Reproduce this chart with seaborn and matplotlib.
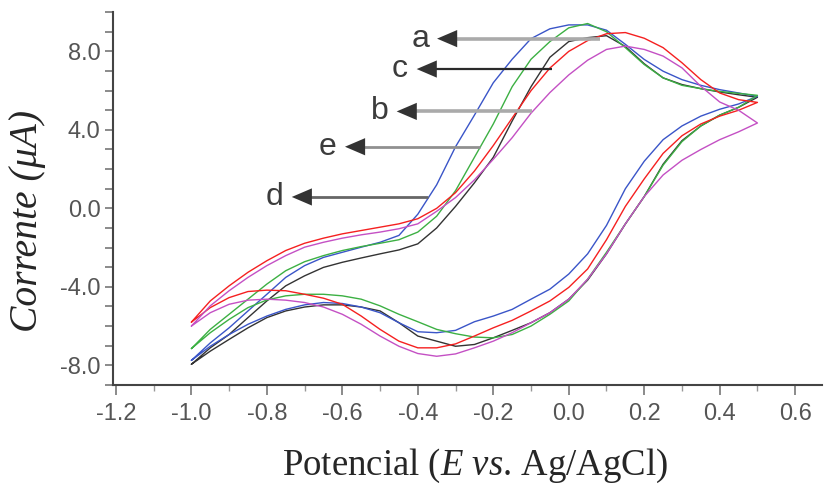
import numpy as np
import pandas as pd
import matplotlib
matplotlib.use('Agg')
import matplotlib.pyplot as plt
import seaborn as sns

# potencial (V) - varredura direta e inversa
E_fwd = [-1.0, -0.95, -0.9, -0.85, -0.8, -0.75, -0.7, -0.65, -0.6, -0.55, -0.5,
         -0.45, -0.4, -0.35, -0.3, -0.25, -0.2, -0.15, -0.1, -0.05, 0.0,
         0.05, 0.1, 0.15, 0.2, 0.25, 0.3, 0.35, 0.4, 0.45, 0.5]
E_rev = E_fwd[::-1]

# corrente (uA), curvas a-e
black_fwd = [-7.95, -7.11, -6.43, -5.57, -4.72, -3.95, -3.44, -3.01, -2.75, -2.53, -2.32,
             -2.12, -1.81, -1.0, 0.1, 1.3, 2.6, 4.45, 6.2, 7.7, 8.5,
             8.7, 8.8, 8.25, 7.37, 6.65, 6.31, 6.1, 5.93, 5.79, 5.66]
black_rev = [5.66, 5.15, 4.75, 4.2, 3.45, 2.25, 0.6, -0.8, -2.32, -3.66, -4.63,
             -5.32, -5.83, -6.22, -6.6, -6.94, -7.03, -6.77, -6.51, -5.83, -5.23,
             -5.03, -4.92, -4.92, -5.03, -5.23, -5.57, -6.09, -6.68, -7.28, -7.95]

blue_fwd = [-7.75, -6.86, -6.09, -5.23, -4.38, -3.52, -2.92, -2.5, -2.24, -1.98, -1.73,
            -1.38, -0.3, 1.2, 3.14, 4.75, 6.4, 7.6, 8.65, 9.15, 9.35,
            9.35, 9.08, 8.36, 7.59, 6.99, 6.56, 6.27, 6.05, 5.88, 5.71]
blue_rev = [5.71, 5.32, 5.05, 4.7, 4.2, 3.5, 2.4, 1.0, -0.87, -2.32, -3.35,
            -4.12, -4.63, -5.15, -5.49, -5.78, -6.22, -6.34, -6.29, -5.83, -5.32,
            -5.03, -4.85, -4.8, -4.92, -5.15, -5.49, -5.91, -6.43, -7.03, -7.75]

green_fwd = [-7.15, -6.17, -5.4, -4.63, -3.86, -3.18, -2.72, -2.41, -2.15, -1.95, -1.78,
             -1.6, -1.21, -0.4, 0.9, 2.6, 4.3, 6.2, 7.6, 8.5, 9.2,
             9.42, 9.0, 8.19, 7.33, 6.65, 6.27, 6.1, 5.96, 5.86, 5.76]
green_rev = [5.76, 5.15, 4.75, 4.2, 3.4, 2.2, 0.6, -0.79, -2.24, -3.61, -4.72,
             -5.4, -6.0, -6.43, -6.6, -6.56, -6.39, -6.17, -5.78, -5.4, -4.97,
             -4.63, -4.46, -4.38, -4.38, -4.46, -4.67, -5.06, -5.66, -6.34, -7.15]

red_fwd = [-5.8, -4.72, -3.95, -3.26, -2.67, -2.15, -1.78, -1.52, -1.3, -1.13, -0.96,
           -0.79, -0.53, 0.0, 0.8, 1.9, 3.2, 4.6, 6.0, 7.15, 8.0,
           8.55, 8.9, 8.96, 8.67, 8.19, 7.42, 6.56, 5.88, 5.54, 5.4]
red_rev = [5.4, 5.0, 4.7, 4.3, 3.7, 2.8, 1.5, 0.1, -1.6, -3.09, -4.03,
           -4.72, -5.23, -5.71, -6.09, -6.51, -6.91, -7.11, -7.11, -6.77, -6.17,
           -5.49, -4.89, -4.58, -4.38, -4.2, -4.17, -4.24, -4.55, -5.06, -5.8]

magenta_fwd = [-6.0, -4.97, -4.2, -3.52, -2.92, -2.41, -1.98, -1.73, -1.52, -1.35, -1.21,
               -1.04, -0.79, -0.15, 0.55, 1.45, 2.5, 3.6, 4.85, 5.9, 6.8,
               7.55, 8.1, 8.27, 8.1, 7.76, 7.16, 6.22, 5.42, 5.0, 4.35]
magenta_rev = [4.35, 3.9, 3.5, 3.0, 2.45, 1.7, 0.6, -0.79, -2.32, -3.61, -4.63,
               -5.32, -5.83, -6.34, -6.77, -7.11, -7.42, -7.54, -7.4, -7.03, -6.51,
               -5.91, -5.4, -5.03, -4.8, -4.68, -4.63, -4.68, -4.89, -5.32, -6.0]

# eixos
x_ticks = [-1.2, -1.0, -0.8, -0.6, -0.4, -0.2, 0.0, 0.2, 0.4, 0.6]
x_ticklabels = ['-1.2', '-1.0', '-0.8', '-0.6', '-0.4', '-0.2', '0.0', '0.2', '0.4', '0.6']
y_ticks = [-8, -4, 0, 4, 8]
y_ticklabels = ['-8.0', '-4.0', '0.0', '4.0', '8.0']

# setas com as letras
arrow_labels = ['a', 'c', 'b', 'e', 'd']
arrow_y = [8.65, 7.1, 4.94, 3.14, 0.58]
arrow_tail = [0.083, -0.045, -0.098, -0.235, -0.373]
arrow_head = [-0.349, -0.403, -0.456, -0.593, -0.734]
arrow_colors = ['#aaaaaa', '#2a2a2a', '#aaaaaa', '#909090', '#666666']
arrow_lw = [2.6, 1.6, 2.6, 2.0, 2.0]

curves = {
    'black': (black_fwd, black_rev, '#333333'),
    'blue': (blue_fwd, blue_rev, '#3a55c8'),
    'green': (green_fwd, green_rev, '#3cb043'),
    'red': (red_fwd, red_rev, '#f52020'),
    'magenta': (magenta_fwd, magenta_rev, '#c450c4'),
}

rows = []
for name, (fwd, rev, col) in curves.items():
    for e, i in zip(E_fwd + E_rev, fwd + rev):
        rows.append((name, e, i))
df = pd.DataFrame(rows, columns=['curva', 'E', 'I'])
palette = {k: v[2] for k, v in curves.items()}

sns.set_style('ticks')
plt.rcParams['mathtext.fontset'] = 'custom'
plt.rcParams['mathtext.it'] = 'Liberation Serif:italic'
plt.rcParams['mathtext.rm'] = 'Liberation Serif'

fig = plt.figure(figsize=(8.24, 4.86), dpi=100)
ax = fig.add_axes([0.137, 0.208, 0.861, 0.767])

sns.lineplot(data=df, x='E', y='I', hue='curva', palette=palette, sort=False,
             estimator=None, legend=False, linewidth=1.0, ax=ax)

for lab, y, xt, xh, c, lw in zip(arrow_labels, arrow_y, arrow_tail, arrow_head, arrow_colors, arrow_lw):
    ax.plot([xh + 0.045, xt], [y, y], color=c, lw=lw, solid_capstyle='butt')
    ax.annotate('', xy=(xh, y), xytext=(xh + 0.055, y),
                arrowprops=dict(arrowstyle='-|>,head_length=1.45,head_width=0.62',
                                color='#333333', lw=0, shrinkA=0, shrinkB=0))
    ax.text(xh - 0.045, y, lab, ha='center', va='center', fontsize=23,
            color='#3c3c3c', family=['Liberation Sans', 'DejaVu Sans'])

ax.set_xlim(-1.208, 0.672)
ax.set_ylim(-9, 10)
ax.set_xticks(x_ticks)
ax.set_xticks(np.arange(-1.1, 0.61, 0.2), minor=True)
ax.set_xticklabels(x_ticklabels)
ax.set_yticks(y_ticks)
ax.set_yticks(np.arange(-9, 10.1, 1), minor=True)
ax.set_yticklabels(y_ticklabels)

for lbl in ax.get_xticklabels() + ax.get_yticklabels():
    lbl.set_family(['Liberation Sans', 'DejaVu Sans'])
    lbl.set_fontsize(17)
    lbl.set_color('#555555')

ax.tick_params(axis='x', which='major', length=7, width=1.2, color='#777777', pad=6)
ax.tick_params(axis='x', which='minor', length=4, width=1.0, color='#999999')
ax.tick_params(axis='y', which='both', length=6, width=1.2, color='#777777', pad=3)

for s in ['top', 'right']:
    ax.spines[s].set_visible(False)
for s in ['left', 'bottom']:
    ax.spines[s].set_color('#444444')
    ax.spines[s].set_linewidth(1.5)

ax.set_xlabel('Potencial ($\\mathit{E}$ $\\mathit{vs}$. Ag/AgCl)', fontsize=26.5,
              family='Liberation Serif')
ax.xaxis.set_label_coords(0.511, -0.165)
ax.set_ylabel('Corrente (\u03bcA)', fontsize=28.5, family='Liberation Serif',
              style='italic')
ax.yaxis.set_label_coords(-0.094, 0.44)

fig.savefig('out.png', dpi=100)
